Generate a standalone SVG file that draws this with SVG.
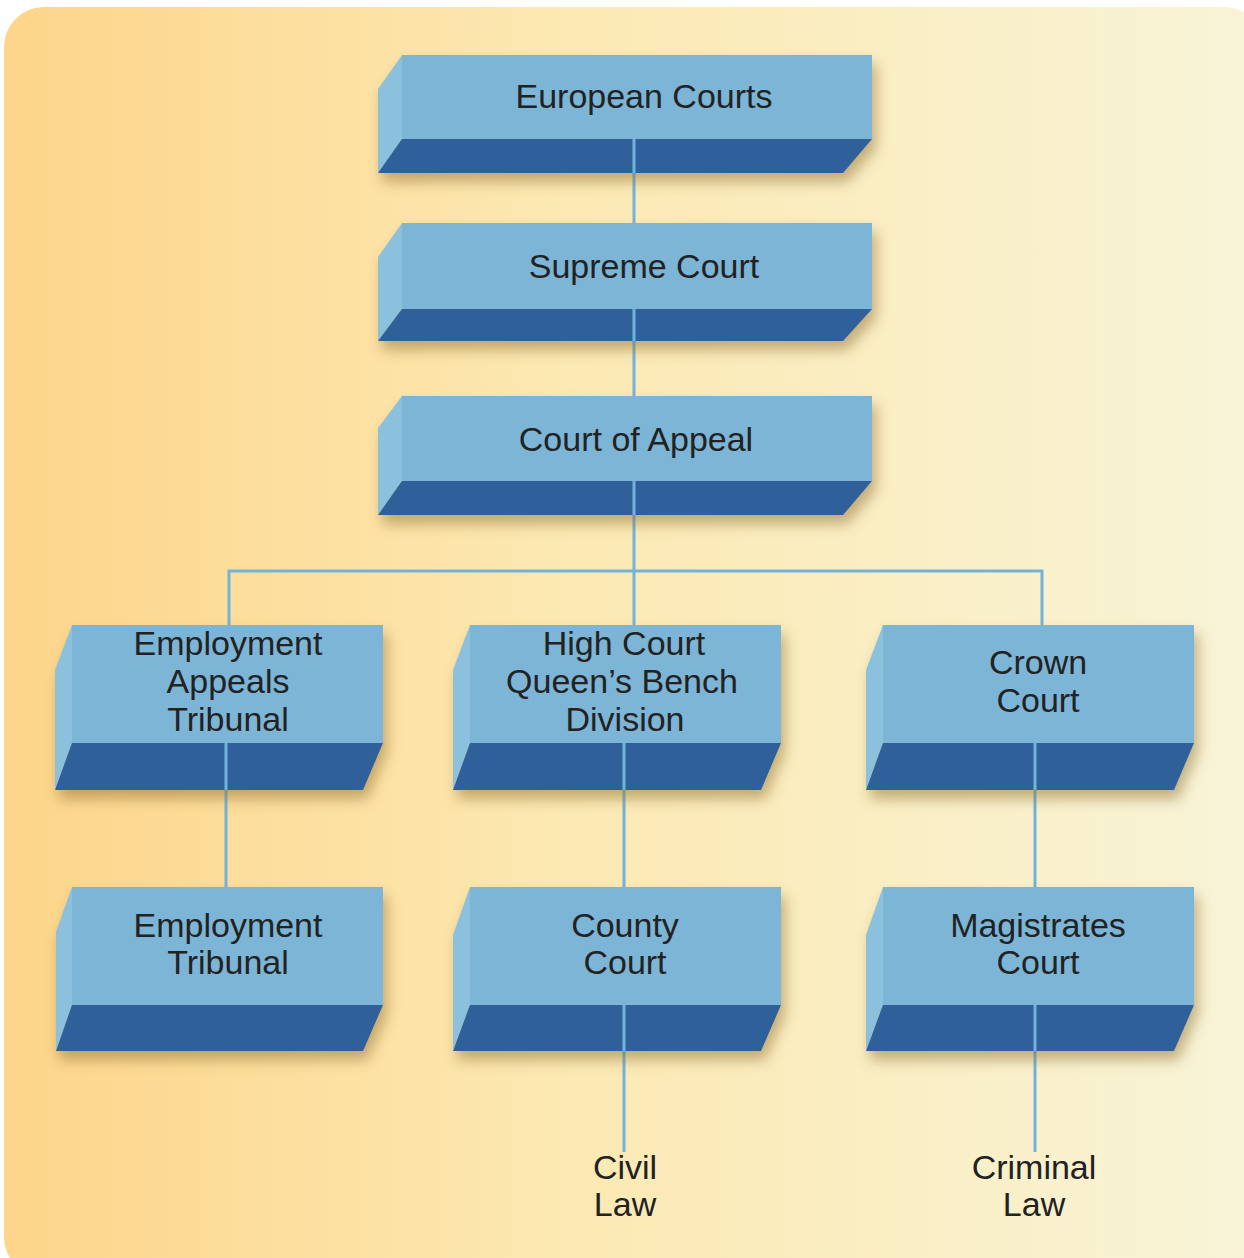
<svg xmlns="http://www.w3.org/2000/svg" width="1244" height="1258" viewBox="0 0 1244 1258">
<defs>
<linearGradient id="bg" x1="0" y1="0" x2="1" y2="0">
<stop offset="0" stop-color="#fdd58a"/>
<stop offset="0.45" stop-color="#fce9b3"/>
<stop offset="1" stop-color="#f8f4d8"/>
</linearGradient>
<filter id="blur" x="-10%" y="-30%" width="120%" height="160%">
<feGaussianBlur stdDeviation="7"/>
</filter>
</defs>
<style>
.front{fill:#7cb5d6}
.side{fill:#8cc1de}
.dark{fill:#30609a}
.shadow{fill:#8a6a2e;opacity:0.5;filter:url(#blur)}
.conn{stroke:#72b3dc;stroke-width:3;fill:none}
text{font-family:"Liberation Sans",Arial,Helvetica,sans-serif;font-size:34px;fill:#222;text-anchor:middle}
</style>
<rect x="4" y="7" width="1260" height="1270" rx="40" fill="url(#bg)"/>

<g id="connectors">
<line class="conn" x1="634" y1="139" x2="634" y2="223"/>
<line class="conn" x1="634" y1="309" x2="634" y2="396"/>
<line class="conn" x1="634" y1="481" x2="634" y2="625"/>
<polyline class="conn" points="229,625 229,571 1042,571 1042,625"/>
<line class="conn" x1="226" y1="743" x2="226" y2="887"/>
<line class="conn" x1="624" y1="743" x2="624" y2="887"/>
<line class="conn" x1="1035" y1="743" x2="1035" y2="887"/>
<line class="conn" x1="624" y1="1005" x2="624" y2="1152"/>
<line class="conn" x1="1035" y1="1005" x2="1035" y2="1152"/>
</g>

<g id="european-courts">
<polygon class="shadow" points="406,64 876,64 876,148 847,182 382,182 382,97"/>
<polygon class="side" points="402,55 402,139 378,173 378,89"/>
<rect class="front" x="402" y="55" width="470" height="84"/>
<polygon class="dark" points="402,139 872,139 843,173 378,173"/>
<line class="conn" x1="634" y1="139" x2="634" y2="173"/>
<text x="644" y="108">European Courts</text>
</g>

<g id="supreme-court">
<polygon class="shadow" points="406,232 876,232 876,318 847,350 382,350 382,266"/>
<polygon class="side" points="402,223 402,309 378,341 378,257"/>
<rect class="front" x="402" y="223" width="470" height="86"/>
<polygon class="dark" points="402,309 872,309 843,341 378,341"/>
<line class="conn" x1="634" y1="309" x2="634" y2="341"/>
<text x="644" y="278">Supreme Court</text>
</g>

<g id="court-of-appeal">
<polygon class="shadow" points="406,405 876,405 876,490 847,524 382,524 382,437"/>
<polygon class="side" points="402,396 402,481 378,515 378,428"/>
<rect class="front" x="402" y="396" width="470" height="85"/>
<polygon class="dark" points="402,481 872,481 843,515 378,515"/>
<line class="conn" x1="634" y1="481" x2="634" y2="515"/>
<text x="636" y="451">Court of Appeal</text>
</g>

<g id="employment-appeals-tribunal">
<polygon class="shadow" points="76,634 387,634 387,752 367,799 59,799 59,679"/>
<polygon class="side" points="72,625 72,743 55,790 55,670"/>
<rect class="front" x="72" y="625" width="311" height="118"/>
<polygon class="dark" points="72,743 383,743 363,790 55,790"/>
<line class="conn" x1="226" y1="743" x2="226" y2="790"/>
<text x="228" y="655">Employment</text>
<text x="228" y="693">Appeals</text>
<text x="228" y="731">Tribunal</text>
</g>

<g id="high-court">
<polygon class="shadow" points="474,634 785,634 785,752 765,799 457,799 457,679"/>
<polygon class="side" points="470,625 470,743 453,790 453,670"/>
<rect class="front" x="470" y="625" width="311" height="118"/>
<polygon class="dark" points="470,743 781,743 761,790 453,790"/>
<line class="conn" x1="624" y1="743" x2="624" y2="790"/>
<text x="624" y="655">High Court</text>
<text x="622" y="693">Queen’s Bench</text>
<text x="625" y="731">Division</text>
</g>

<g id="crown-court">
<polygon class="shadow" points="887,634 1198,634 1198,752 1178,799 870,799 870,679"/>
<polygon class="side" points="883,625 883,743 866,790 866,670"/>
<rect class="front" x="883" y="625" width="311" height="118"/>
<polygon class="dark" points="883,743 1194,743 1174,790 866,790"/>
<line class="conn" x1="1035" y1="743" x2="1035" y2="790"/>
<text x="1038" y="674">Crown</text>
<text x="1038" y="712">Court</text>
</g>

<g id="employment-tribunal">
<polygon class="shadow" points="76,896 387,896 387,1014 367,1060 59,1060 59,941"/>
<polygon class="side" points="72,887 72,1005 56,1051 56,932"/>
<rect class="front" x="72" y="887" width="311" height="118"/>
<polygon class="dark" points="72,1005 383,1005 363,1051 56,1051"/>
<text x="228" y="937">Employment</text>
<text x="228" y="974">Tribunal</text>
</g>

<g id="county-court">
<polygon class="shadow" points="474,896 785,896 785,1014 765,1060 457,1060 457,941"/>
<polygon class="side" points="470,887 470,1005 453,1051 453,935"/>
<rect class="front" x="470" y="887" width="311" height="118"/>
<polygon class="dark" points="470,1005 781,1005 761,1051 453,1051"/>
<line class="conn" x1="624" y1="1005" x2="624" y2="1051"/>
<text x="625" y="937">County</text>
<text x="625" y="974">Court</text>
</g>

<g id="magistrates-court">
<polygon class="shadow" points="887,896 1198,896 1198,1014 1178,1060 870,1060 870,941"/>
<polygon class="side" points="883,887 883,1005 866,1051 866,935"/>
<rect class="front" x="883" y="887" width="311" height="118"/>
<polygon class="dark" points="883,1005 1194,1005 1174,1051 866,1051"/>
<line class="conn" x1="1035" y1="1005" x2="1035" y2="1051"/>
<text x="1038" y="937">Magistrates</text>
<text x="1038" y="974">Court</text>
</g>

<g id="civil-law">
<text x="625" y="1179">Civil</text>
<text x="625" y="1216">Law</text>
</g>

<g id="criminal-law">
<text x="1034" y="1179">Criminal</text>
<text x="1034" y="1216">Law</text>
</g>
</svg>
